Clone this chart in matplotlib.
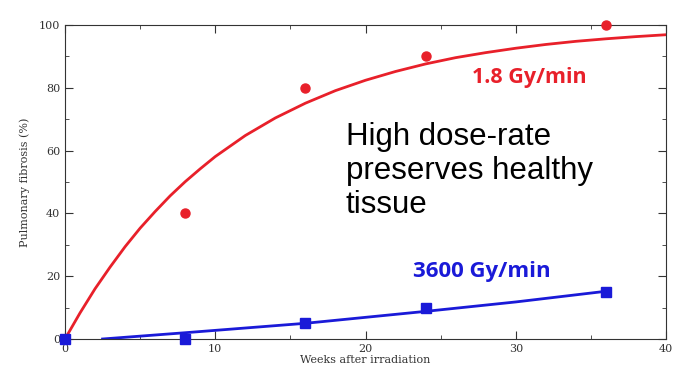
import matplotlib.pyplot as plt
from matplotlib.ticker import MultipleLocator

weeks = [0, 8, 16, 24, 36]
fibrosis_conv = [0, 40, 80, 90, 100]
fibrosis_flash = [0, 0, 5, 10, 15]

# fitted curves
fit_conv_x = [0, 1, 2, 3, 4, 5, 6, 7, 8, 9, 10, 12, 14, 16, 18, 20, 22, 24, 26, 28, 30,
              32, 34, 36, 38, 40]
fit_conv_y = [0, 8.3, 16, 22.9, 29.4, 35.3, 40.6, 45.6, 50.1, 54.2, 58.1, 64.8, 70.4, 75.1,
              79.1, 82.4, 85.2, 87.6, 89.6, 91.2, 92.6, 93.8, 94.8, 95.6, 96.3, 96.9]
fit_flash_x = [2.5, 8, 16, 24, 30, 36]
fit_flash_y = [0, 2.0, 5.0, 8.8, 11.8, 15.2]

red = '#e8202a'
blue = '#1a1ad8'

W, H = 673, 368
fig = plt.figure(figsize=(W / 100, H / 100), dpi=100)
ax = fig.add_axes([65 / W, 1 - 339 / H, (666 - 65) / W, (339 - 25) / H])

ax.plot(fit_conv_x, fit_conv_y, color=red, lw=2)
ax.plot(fit_flash_x, fit_flash_y, color=blue, lw=2)
ax.plot(weeks, fibrosis_conv, 'o', color=red, ms=6.5, clip_on=False, zorder=5)
ax.plot(weeks, fibrosis_flash, 's', color=blue, ms=7, clip_on=False, zorder=5)

ax.set_xlim(0, 40)
ax.set_ylim(0, 100)
ax.xaxis.set_major_locator(MultipleLocator(10))
ax.xaxis.set_minor_locator(MultipleLocator(5))
ax.yaxis.set_major_locator(MultipleLocator(20))
ax.yaxis.set_minor_locator(MultipleLocator(10))
ax.tick_params(which='both', direction='in', top=True, right=True, color='#333333')
ax.tick_params(which='major', length=6, labelsize=8, labelcolor='#333333')
ax.tick_params(which='minor', length=3)
for lbl in ax.get_xticklabels() + ax.get_yticklabels():
    lbl.set_family('serif')
for s in ax.spines.values():
    s.set_color('#333333')

ax.set_xlabel('Weeks after irradiation', family='serif', fontsize=8, color='#333333', labelpad=1)
ax.set_ylabel('Pulmonary fibrosis (%)', family='serif', fontsize=8, color='#333333', labelpad=6)

fig.text(472 / W, 1 - 83 / H, '1.8 Gy/min', color=red, fontsize=15.5, fontweight='bold',
         family='Open Sans', va='baseline', ha='left')
fig.text(413 / W, 1 - 277 / H, '3600 Gy/min', color=blue, fontsize=16, fontweight='bold',
         family='Open Sans', va='baseline', ha='left')
fig.text(346 / W, 1 - 122 / H, 'High dose-rate\npreserves healthy\ntissue',
         fontsize=22.5, family='Liberation Sans', va='top', ha='left', linespacing=1.17)

plt.savefig('out.png', dpi=100)
